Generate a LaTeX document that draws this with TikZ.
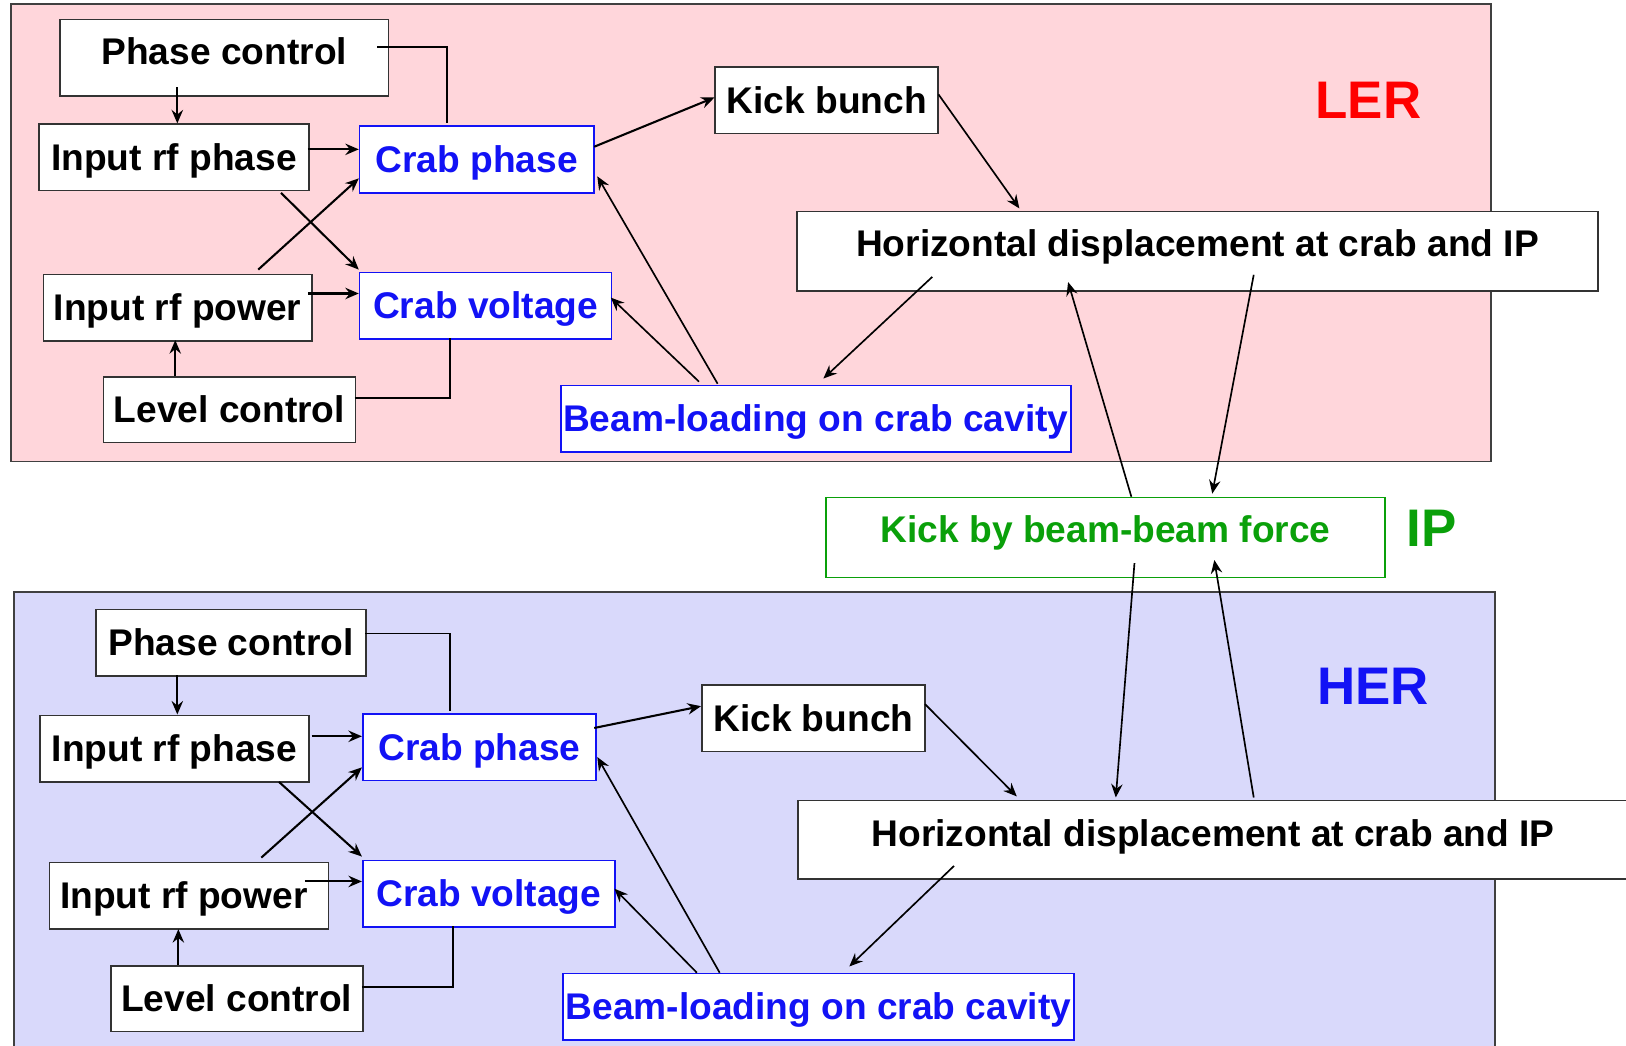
\documentclass[tikz,border=0pt]{standalone}
\usepackage{fontspec}
\setmainfont{Liberation Sans}
\usetikzlibrary{arrows.meta}
\definecolor{lerbg}{RGB}{255,214,219}
\definecolor{herbg}{RGB}{217,217,251}
\definecolor{cblue}{RGB}{18,18,245}
\definecolor{cgreen}{RGB}{10,160,10}
\definecolor{cred}{RGB}{255,0,0}
\newcommand\boxnode[7]{%
  \pgfmathsetmacro\bxw{(#5-#3)*0.5}%
  \pgfmathsetmacro\bxh{(#6-#4)*0.5}%
  \node[#1, anchor=north west, minimum width=\bxw pt, minimum height=\bxh pt] (#2) at (#3,#4) {#7};}
\begin{document}
\begin{tikzpicture}[x=0.5pt,y=-0.5pt,
  font=\fontsize{17.9}{21}\selectfont\bfseries,
  bx/.style={draw=black!80, fill=white, line width=0.8pt, inner sep=0pt, text height=12.2pt, text depth=0pt},
  bbx/.style={bx, draw=cblue, text=cblue},
  gbx/.style={bx, draw=cgreen, text=cgreen},
  arr/.style={-{Stealth[length=6.5pt,width=5.5pt,inset=2.2pt]}, line width=1pt},
  larr/.style={arr, line width=0.8pt},
  ln/.style={line width=0.8pt},
  biglab/.style={font=\fontsize{25.5}{30}\selectfont\bfseries, inner sep=0pt}]
\useasboundingbox (0,0) rectangle (1568,1008);
\clip (0,0) rectangle (1568,1008);
% backgrounds
\fill[lerbg] (10.3,4) rectangle (1438,445);
\draw[black!75, line width=0.8pt] (10.3,4) rectangle (1438,445);
\fill[herbg] (13.3,570.6) rectangle (1441.4,1020);
\draw[black!75, line width=0.8pt] (13.3,570.6) rectangle (1441.4,1020);
% LER nodes
\boxnode{bx, text depth=6pt}{lpc}{57}{18}{374}{92}{Phase control}
\boxnode{bx}{lip}{37}{119}{297}{183}{Input rf phase}
\boxnode{bbx}{lcp}{346}{121}{572}{185}{Crab phase}
\boxnode{bx}{lipw}{41}{264}{300}{328}{Input rf power}
\boxnode{bbx}{lcv}{346}{262}{589}{326}{Crab voltage}
\boxnode{bx}{llc}{99}{363}{342}{426}{Level control}
\boxnode{bbx}{lbl}{540}{371}{1032}{435}{Beam-loading on crab cavity}
\boxnode{bx}{lkb}{689}{64}{904}{128}{Kick bunch}
\boxnode{bx, text depth=7.5pt}{lhd}{768}{203}{1540}{280}{Horizontal displacement at crab and IP}
\node[biglab, text=cred] (lerlab) at (1319.5,97) {LER};
% IP
\boxnode{gbx, text depth=7pt}{kbb}{796}{479}{1335}{556}{Kick by beam-beam force}
\node[biglab, text=cgreen] (iplab) at (1380.7,509.3) {IP};
% HER nodes
\boxnode{bx}{hpc}{92}{587}{352}{651}{Phase control}
\boxnode{bx}{hip}{38}{689}{297}{753}{Input rf phase}
\boxnode{bbx}{hcp}{349}{688}{574}{752}{Crab phase}
\boxnode{bx}{hipw}{47}{831}{316}{895}{Input rf power\hspace*{5pt}}
\boxnode{bbx}{hcv}{349}{829}{592}{893}{Crab voltage}
\boxnode{bx}{hlc}{106}{931}{349}{994}{Level control}
\boxnode{bbx}{hbl}{542}{938}{1035}{1002}{Beam-loading on crab cavity}
\boxnode{bx}{hkb}{676}{660}{891}{724}{Kick bunch}
\boxnode{bx, text depth=5.4pt}{hhd}{769}{771}{1569}{847}{Horizontal displacement at crab and IP}
\node[biglab, text=cblue] (herlab) at (1324,662) {HER};
% LER connectors
\draw[arr] ([shift={(114,66)}]lpc.north west) -- ([shift={(134,0)}]lip.north west);
\draw[ln] ([shift={(307,27)}]lpc.north west) -| ([shift={(85,-2)}]lcp.north west);
\draw[arr] ([shift={(260,25)}]lip.north west) -- ([shift={(0,23)}]lcp.north west);
\draw[arr] ([shift={(234,67)}]lip.north west) -- ([shift={(0,-2)}]lcv.north west);
\draw[arr] ([shift={(208,-4)}]lipw.north west) -- ([shift={(0,51)}]lcp.north west);
\draw[arr] ([shift={(256,19)}]lipw.north west) -- ([shift={(0,21)}]lcv.north west);
\draw[arr] ([shift={(70,0)}]llc.north west) -- ([shift={(128,64)}]lipw.north west);
\draw[ln] ([shift={(243,21)}]llc.north west) -| ([shift={(88,64)}]lcv.north west);
\draw[arr] ([shift={(227,20.5)}]lcp.north west) -- ([shift={(0,30)}]lkb.north west);
\draw[larr] ([shift={(216,27)}]lkb.north west) -- ([shift={(215,-2)}]lhd.north west);
\draw[larr] ([shift={(131,64)}]lhd.north west) -- ([shift={(254,-6)}]lbl.north west);
\draw[larr] ([shift={(134,-3)}]lbl.north west) -- ([shift={(243,25)}]lcv.north west);
\draw[larr] ([shift={(152,-1)}]lbl.north west) -- ([shift={(230,49)}]lcp.north west);
\draw[larr] ([shift={(295,0)}]kbb.north west) -- ([shift={(262,69)}]lhd.north west);
\draw[larr] ([shift={(441,62)}]lhd.north west) -- ([shift={(373,-3)}]kbb.north west);
% HER connectors
\draw[arr] ([shift={(79,64)}]hpc.north west) -- ([shift={(133,0)}]hip.north west);
\draw[ln] ([shift={(260,24)}]hpc.north west) -| ([shift={(85,-2)}]hcp.north west);
\draw[arr] ([shift={(262.5,21)}]hip.north west) -- ([shift={(0,22)}]hcp.north west);
\draw[arr] ([shift={(231,65)}]hip.north west) -- ([shift={(0,-3)}]hcv.north west);
\draw[arr] ([shift={(205,-4)}]hipw.north west) -- ([shift={(0,52)}]hcp.north west);
\draw[arr] ([shift={(247,19)}]hipw.north west) -- ([shift={(0,21)}]hcv.north west);
\draw[arr] ([shift={(66,0)}]hlc.north west) -- ([shift={(125,65)}]hipw.north west);
\draw[ln] ([shift={(243,20.5)}]hlc.north west) -| ([shift={(87.6,64)}]hcv.north west);
\draw[arr] ([shift={(224,14)}]hcp.north west) -- ([shift={(0,21)}]hkb.north west);
\draw[larr] ([shift={(216,19)}]hkb.north west) -- ([shift={(211.5,-3)}]hhd.north west);
\draw[larr] ([shift={(151,64)}]hhd.north west) -- ([shift={(277,-6)}]hbl.north west);
\draw[larr] ([shift={(130,0)}]hbl.north west) -- ([shift={(243.5,28)}]hcv.north west);
\draw[larr] ([shift={(152,0)}]hbl.north west) -- ([shift={(227,42)}]hcp.north west);
\draw[larr] ([shift={(298,64)}]kbb.north west) -- ([shift={(307,-2)}]hhd.north west);
\draw[larr] ([shift={(440,-2)}]hhd.north west) -- ([shift={(375,61)}]kbb.north west);
\end{tikzpicture}
\end{document}
